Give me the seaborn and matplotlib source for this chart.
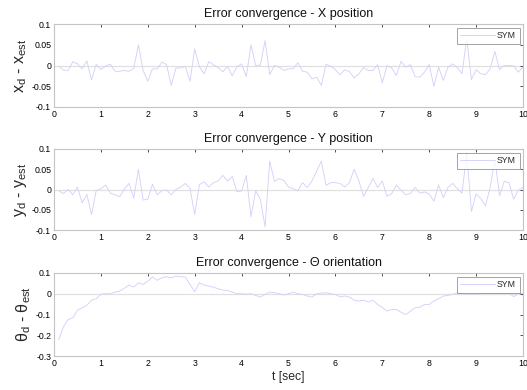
import numpy as np
import matplotlib
matplotlib.use("Agg")
import matplotlib.pyplot as plt
import seaborn as sns

# time samples [sec]
t = [0.1, 0.2, 0.3, 0.4, 0.5, 0.6, 0.7, 0.8, 0.9, 1.0,
     1.1, 1.2, 1.3, 1.4, 1.5, 1.6, 1.7, 1.8, 1.9, 2.0,
     2.1, 2.2, 2.3, 2.4, 2.5, 2.6, 2.7, 2.8, 2.9, 3.0,
     3.1, 3.2, 3.3, 3.4, 3.5, 3.6, 3.7, 3.8, 3.9, 4.0,
     4.1, 4.2, 4.3, 4.4, 4.5, 4.6, 4.7, 4.8, 4.9, 5.0,
     5.1, 5.2, 5.3, 5.4, 5.5, 5.6, 5.7, 5.8, 5.9, 6.0,
     6.1, 6.2, 6.3, 6.4, 6.5, 6.6, 6.7, 6.8, 6.9, 7.0,
     7.1, 7.2, 7.3, 7.4, 7.5, 7.6, 7.7, 7.8, 7.9, 8.0,
     8.1, 8.2, 8.3, 8.4, 8.5, 8.6, 8.7, 8.8, 8.9, 9.0,
     9.1, 9.2, 9.3, 9.4, 9.5, 9.6, 9.7, 9.8, 9.9, 10.0]

err_x = [-0.002, -0.011, -0.012, 0.009, 0.004, -0.008, 0.011, -0.035, 0.003, -0.010,
         -0.001, 0.003, -0.014, -0.014, -0.012, -0.014, -0.007, 0.050, -0.012, -0.038,
         -0.008, -0.008, 0.008, 0.002, -0.048, -0.006, -0.006, -0.002, -0.038, 0.040,
         -0.003, -0.020, 0.009, 0.002, -0.005, -0.015, -0.002, -0.025, -0.003, 0.004,
         -0.027, 0.050, 0.000, 0.001, 0.060, -0.022, 0.000, -0.004, -0.012, -0.008,
         -0.008, 0.007, -0.014, -0.016, -0.032, -0.028, -0.048, 0.003, -0.002, -0.010,
         -0.022, -0.010, -0.015, -0.030, -0.020, -0.005, -0.012, -0.012, 0.002, -0.042,
         0.000, -0.006, -0.024, 0.010, -0.004, 0.002, -0.027, -0.028, -0.016, 0.002,
         -0.050, -0.004, -0.036, -0.004, 0.004, -0.005, -0.020, 0.065, -0.034, -0.010,
         -0.020, -0.022, -0.008, 0.034, -0.010, 0.000, 0.000, -0.001, -0.016, -0.004]

err_y = [-0.003, -0.010, 0.000, -0.013, 0.006, -0.033, -0.012, -0.062, -0.003, 0.002,
         0.011, -0.009, -0.013, -0.018, 0.001, 0.015, -0.021, 0.050, -0.026, -0.024,
         0.013, -0.013, -0.003, -0.001, -0.013, 0.000, 0.006, 0.015, 0.003, -0.062,
         0.012, 0.019, 0.006, 0.017, 0.021, 0.035, 0.021, 0.032, -0.005, -0.004,
         0.035, -0.067, -0.003, -0.024, -0.092, 0.070, 0.020, 0.027, 0.022, 0.006,
         0.002, -0.003, 0.017, 0.005, 0.021, 0.045, 0.070, 0.010, 0.017, 0.017,
         0.015, 0.006, 0.017, 0.050, 0.021, -0.017, 0.005, 0.027, 0.005, 0.021,
         -0.017, -0.010, 0.011, -0.002, -0.013, -0.010, 0.005, -0.009, -0.006, -0.011,
         -0.029, 0.011, -0.020, 0.005, 0.015, 0.002, -0.009, 0.090, -0.054, -0.011,
         -0.022, -0.040, 0.005, 0.075, -0.015, 0.020, 0.017, -0.024, -0.002, 0.005]

err_th = [-0.221, -0.160, -0.124, -0.116, -0.079, -0.068, -0.056, -0.031, -0.024, -0.002,
          0.000, 0.000, 0.008, 0.013, 0.026, 0.042, 0.032, 0.053, 0.045, 0.061,
          0.081, 0.065, 0.077, 0.082, 0.077, 0.085, 0.082, 0.081, 0.045, 0.010,
          0.053, 0.042, 0.037, 0.032, 0.024, 0.018, 0.016, 0.008, 0.000, 0.000,
          -0.002, 0.000, -0.008, -0.016, -0.003, 0.008, 0.005, 0.000, -0.006, 0.000,
          0.008, 0.000, -0.003, -0.011, -0.016, 0.000, 0.002, 0.005, 0.000, -0.003,
          -0.015, -0.011, -0.016, -0.031, -0.035, -0.031, -0.040, -0.031, -0.052, -0.065,
          -0.084, -0.076, -0.076, -0.089, -0.100, -0.084, -0.068, -0.065, -0.052, -0.052,
          -0.035, -0.024, -0.011, -0.008, -0.003, 0.005, 0.000, -0.003, 0.000, -0.003,
          0.000, 0.002, 0.000, 0.001, 0.003, 0.000, 0.004, -0.014, 0.000, 0.002]

x_ticks = [0, 1, 2, 3, 4, 5, 6, 7, 8, 9, 10]
x_ticklabels = ["0", "1", "2", "3", "4", "5", "6", "7", "8", "9", "10"]
pos_yticks = [-0.1, -0.05, 0, 0.05, 0.1]
pos_yticklabels = ["-0.1", "-0.05", "0", "0.05", "0.1"]
th_yticks = [-0.3, -0.2, -0.1, 0, 0.1]
th_yticklabels = ["-0.3", "-0.2", "-0.1", "0", "0.1"]

titles = ["Error convergence - X position",
          "Error convergence - Y position",
          "Error convergence - \u0398 orientation"]
ylabels = [r"x$_\mathregular{d}$ - x$_\mathregular{est}$",
           r"y$_\mathregular{d}$ - y$_\mathregular{est}$",
           "\u03b8$_\\mathregular{d}$ - \u03b8$_\\mathregular{est}$"]
legend_label = "SYM"
xlabel = "t [sec]"

sns.set_theme(style="white")
plt.rcParams["font.family"] = ["Liberation Sans", "DejaVu Sans"]
plt.rcParams["mathtext.fontset"] = "custom"
plt.rcParams["mathtext.rm"] = "Liberation Sans"

fig = plt.figure(figsize=(5.27, 3.9), dpi=100)
left, width = 54 / 527, 469 / 527
rects = [(left, 1 - 107 / 390, width, 83 / 390),
         (left, 1 - 230 / 390, width, 81 / 390),
         (left, 1 - 356 / 390, width, 83 / 390)]
series = [err_x, err_y, err_th]
ylims = [(-0.1, 0.1), (-0.1, 0.1), (-0.3, 0.1)]
yticks = [(pos_yticks, pos_yticklabels), (pos_yticks, pos_yticklabels),
          (th_yticks, th_yticklabels)]

line_color = "#d2d2fa"
for i in range(3):
    ax = fig.add_axes(rects[i])
    ax.axhline(0, color="#e0e0e0", lw=0.9, zorder=0)
    sns.lineplot(x=t, y=series[i], ax=ax, color=line_color, linewidth=0.65,
                 label=legend_label, zorder=2)
    ax.set_xlim(0, 10)
    ax.set_ylim(*ylims[i])
    ax.set_xticks(x_ticks)
    ax.set_xticklabels(x_ticklabels)
    ax.set_yticks(yticks[i][0])
    ax.set_yticklabels(yticks[i][1])
    ax.tick_params(direction="in", top=True, right=True, length=2.5, width=0.6,
                   colors="#333333", labelsize=6.3, pad=2)
    ax.tick_params(labelcolor="black")
    for sp in ax.spines.values():
        sp.set_color("#c4c4c4")
        sp.set_linewidth(0.8)
    ax.set_title(titles[i], fontsize=9, pad=5, color="#111111")
    ax.set_ylabel(ylabels[i], fontsize=11.5, labelpad=2)
    leg = ax.legend(loc="upper right", fontsize=6.3, frameon=True, fancybox=False,
                    handlelength=4.0, handletextpad=0.2, borderpad=0.4,
                    borderaxespad=0.4, edgecolor="#8c8c8c")
    leg.get_frame().set_linewidth(0.7)
    if i == 2:
        ax.set_xlabel(xlabel, fontsize=8.8, labelpad=2)
    else:
        ax.set_xlabel("")

fig.savefig("out.png", dpi=100, facecolor="white")
